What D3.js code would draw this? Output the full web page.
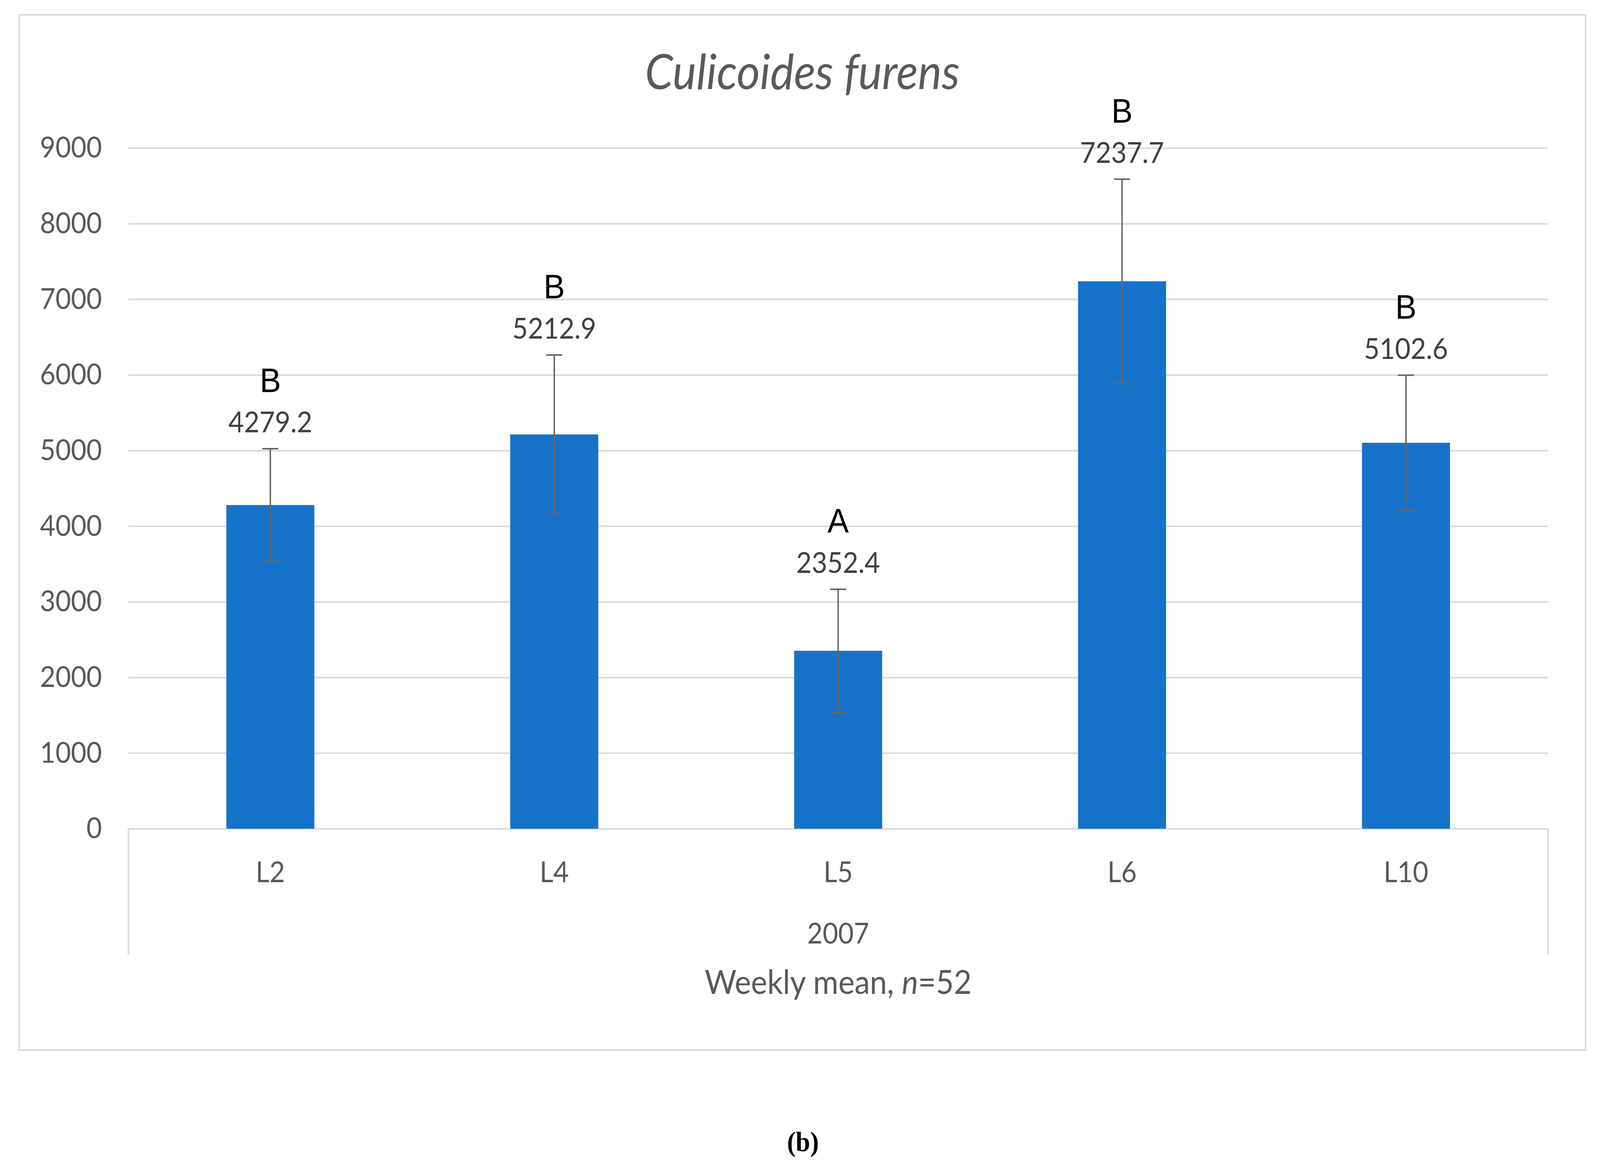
<!DOCTYPE html>
<meta charset="utf-8">
<html>
  <head>
    <style>
      html, body { margin: 0; padding: 0; background: white; overflow: hidden; }
      #my_dataviz svg { display: block; width: 100vw; height: 100vh; }
      #my_dataviz text { font-family: Lato, "Open Sans", sans-serif; }
    </style>
    <script src="https://d3js.org/d3.v7.min.js"></script>
  </head>
  <body>
<div id="my_dataviz"></div>

<script>

// data
var sites = ["L2", "L4", "L5", "L6", "L10"]
var means = [4279.2, 5212.9, 2352.4, 7237.7, 5102.6]
var errors = [745, 1050, 813, 1350, 893]
var letters = ["B", "B", "A", "B", "B"]
var yTicks = [0, 1000, 2000, 3000, 4000, 5000, 6000, 7000, 8000, 9000]
var yearLabel = "2007"

// page and plot box
var W = 4424, H = 2996
var plot = {left: 355, right: 4280, top: 379, bottom: 2122}
var box = {x0: 53, y0: 38, x1: 4384, y1: 2689}
var grey = "#595959", gridGrey = "#d9d9d9", barBlue = "#1672c9"

// fill the whole window with the 4424x2996 drawing
var svg = d3.select("#my_dataviz")
  .append("svg")
  .attr("viewBox", "0 0 " + W + " " + H)
  .attr("preserveAspectRatio", "none")

svg.append("rect")
  .attr("width", W).attr("height", H)
  .attr("fill", "white")

// chart border
svg.append("rect")
  .attr("x", box.x0).attr("y", box.y0)
  .attr("width", box.x1 - box.x0).attr("height", box.y1 - box.y0)
  .attr("fill", "none")
  .attr("stroke", gridGrey)
  .attr("stroke-width", 4)

// scales
var x = d3.scaleBand()
  .domain(sites)
  .range([plot.left, plot.right])

var y = d3.scaleLinear()
  .domain([0, 9000])
  .range([plot.bottom, plot.top])

var barW = x.bandwidth() * 0.31

// gridlines
svg.append("g")
  .attr("transform", "translate(" + plot.left + ",0)")
  .call(d3.axisLeft(y).tickValues(yTicks).tickSize(-(plot.right - plot.left)).tickFormat(""))
  .call(function(g) { g.select(".domain").remove() })
  .selectAll("line")
    .attr("stroke", gridGrey)
    .attr("stroke-width", 4)

// y axis labels
svg.append("g")
  .attr("transform", "translate(" + plot.left + ",0)")
  .call(d3.axisLeft(y).tickValues(yTicks).tickSize(0).tickPadding(73).tickFormat(d3.format("d")))
  .call(function(g) { g.select(".domain").remove() })
  .selectAll("text")
    .attr("fill", grey)
    .style("font-size", "74px")

// category axis
svg.append("g")
  .attr("transform", "translate(0," + plot.bottom + ")")
  .call(d3.axisBottom(x).tickSize(0).tickPadding(84))
  .call(function(g) { g.select(".domain").remove() })
  .selectAll("text")
    .attr("fill", grey)
    .style("font-size", "74px")

// outer lines of the two-level category axis
svg.selectAll(".catEdge")
  .data(x.range())
  .enter()
  .append("line")
  .attr("x1", function(d) { return d }).attr("x2", function(d) { return d })
  .attr("y1", plot.bottom).attr("y2", 2445)
  .attr("stroke", gridGrey)
  .attr("stroke-width", 4)

var midX = (plot.left + plot.right) / 2

svg.append("text")
  .attr("x", midX).attr("y", 2416)
  .attr("text-anchor", "middle")
  .attr("fill", grey)
  .style("font-size", "74px")
  .text(yearLabel)

// axis title
var axTitle = svg.append("text")
  .attr("x", midX).attr("y", 2545)
  .attr("text-anchor", "middle")
  .attr("fill", grey)
  .style("font-size", "85px")
axTitle.append("tspan").text("Weekly mean, ")
axTitle.append("tspan").style("font-style", "italic").text("n")
axTitle.append("tspan").text("=52")

// chart title
svg.append("text")
  .attr("x", (box.x0 + box.x1) / 2).attr("y", 228)
  .attr("text-anchor", "middle")
  .attr("fill", grey)
  .style("font-size", "124px")
  .style("font-style", "italic")
  .text("Culicoides furens")

// bars
svg.selectAll(".bar")
  .data(sites)
  .enter()
  .append("rect")
  .attr("x", function(d) { return x(d) + x.bandwidth() / 2 - barW / 2 })
  .attr("y", function(d, i) { return y(means[i]) })
  .attr("width", barW)
  .attr("height", function(d, i) { return y(0) - y(means[i]) })
  .attr("fill", barBlue)

// error bars
var eb = svg.selectAll(".err")
  .data(sites)
  .enter()
  .append("g")
  .attr("stroke", "#666666")
  .attr("stroke-width", 4)
eb.append("line")
  .attr("x1", function(d) { return x(d) + x.bandwidth() / 2 })
  .attr("x2", function(d) { return x(d) + x.bandwidth() / 2 })
  .attr("y1", function(d, i) { return y(means[i] + errors[i]) })
  .attr("y2", function(d, i) { return y(means[i] - errors[i]) })
eb.each(function(d, i) {
  var cx = x(d) + x.bandwidth() / 2
  var g = d3.select(this)
  ;[means[i] + errors[i], means[i] - errors[i]].forEach(function(v) {
    g.append("line")
      .attr("x1", cx - 22).attr("x2", cx + 22)
      .attr("y1", y(v)).attr("y2", y(v))
  })
})

// value labels
svg.selectAll(".val")
  .data(sites)
  .enter()
  .append("text")
  .attr("x", function(d) { return x(d) + x.bandwidth() / 2 })
  .attr("y", function(d, i) { return y(means[i] + errors[i]) - 42 })
  .attr("text-anchor", "middle")
  .attr("fill", "#404040")
  .style("font-size", "74px")
  .text(function(d, i) { return d3.format(".1f")(means[i]) })

// significance letters
svg.selectAll(".letter")
  .data(sites)
  .enter()
  .append("text")
  .attr("x", function(d) { return x(d) + x.bandwidth() / 2 })
  .attr("y", function(d, i) { return y(means[i] + errors[i]) - 145 })
  .attr("text-anchor", "middle")
  .attr("fill", "black")
  .style("font-family", "'Liberation Sans', Arial, sans-serif")
  .style("font-size", "88px")
  .text(function(d, i) { return letters[i] })

// panel tag
svg.append("text")
  .attr("x", 2220).attr("y", 2948)
  .attr("text-anchor", "middle")
  .attr("fill", "black")
  .style("font-family", "'Liberation Serif', 'Times New Roman', serif")
  .style("font-weight", "bold")
  .style("font-size", "72px")
  .text("(b)")

</script>
</body>
</html>
